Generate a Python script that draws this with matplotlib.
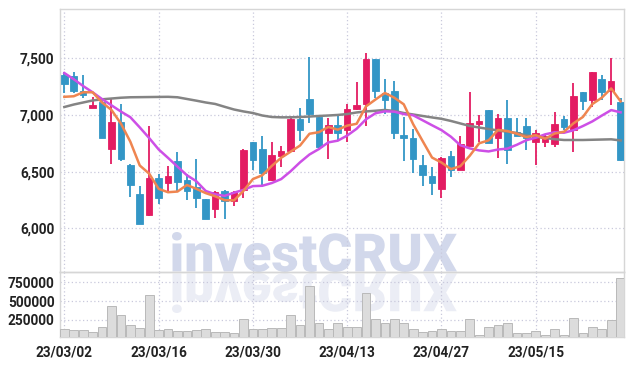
import numpy as np
import pandas as pd
import matplotlib
matplotlib.use("Agg")
import matplotlib.pyplot as plt
from matplotlib.textpath import TextPath
from matplotlib.patches import PathPatch
from matplotlib.font_manager import FontProperties
from matplotlib.transforms import Affine2D

# daily prices (KRW)
opens = [7350, 7340, 7210, 7060, 7110, 6700, 6940, 6560, 6300, 6120,
         6440, 6400, 6590, 6430, 6360, 6260, 6170, 6330, 6240, 6340,
         6760, 6700, 6430, 6640, 6680, 6960, 7140, 6980, 6840, 6910,
         6870, 7050, 7100, 7490, 7190, 7210, 6810, 6800, 6560, 6460,
         6350, 6640, 6510, 6730, 6920, 7040, 6800, 6970, 6850, 6900,
         6760, 6760, 6740, 6960, 6870, 7200, 7130, 7320, 7210, 7110]
highs = [7380, 7380, 7350, 7160, 7130, 7140, 7100, 6570, 6370, 6900,
         6480, 6550, 6670, 6480, 6610, 6260, 6330, 6340, 6330, 6700,
         6760, 6810, 6760, 6730, 6990, 7060, 7510, 6980, 6970, 7000,
         7100, 7290, 7550, 7490, 7320, 7300, 6980, 6880, 6650, 6540,
         6630, 6680, 6810, 7200, 7000, 7040, 7010, 7130, 6970, 6970,
         6870, 6820, 7030, 6990, 7280, 7200, 7380, 7350, 7500, 7150]
lows = [7190, 7190, 7150, 7060, 6800, 6570, 6590, 6280, 6040, 6110,
        6210, 6320, 6330, 6250, 6180, 6080, 6090, 6080, 6200, 6270,
        6510, 6380, 6420, 6540, 6670, 6770, 6930, 6690, 6610, 6770,
        6760, 7040, 6900, 7150, 7010, 6790, 6590, 6490, 6370, 6290,
        6270, 6450, 6510, 6730, 6760, 6750, 6620, 6570, 6810, 6690,
        6560, 6720, 6720, 6870, 6670, 7040, 7070, 7130, 7090, 6590]
closes = [7270, 7210, 7180, 7090, 6800, 6940, 6610, 6380, 6040, 6440,
          6270, 6460, 6410, 6330, 6270, 6080, 6320, 6240, 6320, 6690,
          6600, 6490, 6650, 6680, 6960, 6870, 7010, 6720, 6910, 6840,
          7050, 7090, 7490, 7210, 7130, 6840, 6800, 6610, 6470, 6400,
          6620, 6510, 6740, 6930, 6950, 6750, 6970, 6690, 6810, 6800,
          6840, 6810, 6920, 6890, 7170, 7120, 7380, 7200, 7300, 6600]
ma5 = [7160, 7165, 7200, 7200, 7110, 7044, 6924, 6764, 6554, 6482,
       6348, 6318, 6324, 6382, 6348, 6310, 6282, 6248, 6246, 6330,
       6434, 6468, 6550, 6622, 6676, 6730, 6834, 6848, 6894, 6870,
       6906, 6922, 7076, 7136, 7194, 7152, 7094, 6918, 6770, 6624,
       6580, 6522, 6548, 6640, 6750, 6776, 6868, 6858, 6834, 6804,
       6822, 6790, 6836, 6852, 6926, 6982, 7096, 7152, 7234, 7120]
ma10 = [7370, 7315, 7255, 7200, 7140, 7085, 7030, 6980, 6890, 6796,
        6696, 6621, 6544, 6468, 6415, 6329, 6300, 6286, 6314, 6339,
        6372, 6375, 6399, 6434, 6503, 6582, 6651, 6699, 6758, 6773,
        6818, 6878, 6962, 7015, 7032, 7029, 7008, 6997, 6953, 6909,
        6866, 6808, 6733, 6705, 6687, 6678, 6695, 6703, 6737, 6777,
        6799, 6829, 6847, 6843, 6865, 6902, 6943, 6994, 7043, 7023]
ma_long = [7070, 7092, 7110, 7128, 7138, 7145, 7152, 7156, 7157, 7158,
           7159, 7160, 7156, 7141, 7126, 7110, 7097, 7072, 7048, 7031,
           7017, 6995, 6982, 6979, 6979, 6982, 6986, 6991, 6995, 7000,
           7008, 7022, 7031, 7037, 7044, 7035, 7017, 7004, 6991, 6978,
           6966, 6947, 6925, 6903, 6889, 6876, 6863, 6852, 6841, 6819,
           6807, 6797, 6786, 6779, 6779, 6779, 6781, 6783, 6785, 6775]
volume = [125000, 112000, 112000, 85000, 160000, 440000, 310000, 178000, 138000, 575000,
          112000, 133000, 98000, 98000, 112000, 125000, 90000, 90000, 72000, 258000,
          133000, 133000, 147000, 138000, 310000, 178000, 705000, 204000, 133000, 212000,
          160000, 160000, 610000, 258000, 212000, 258000, 204000, 133000, 90000, 98000,
          125000, 98000, 98000, 266000, 55000, 160000, 178000, 212000, 81000, 72000,
          107000, 55000, 125000, 55000, 279000, 81000, 160000, 133000, 244000, 810000]

# trading days (KRX holidays in range removed)
dates = pd.bdate_range("2023-03-02", periods=len(closes), freq="C",
                       holidays=["2023-05-01", "2023-05-05"])
date_labels = dates.strftime("%y/%m/%d")

RED = "#e31c62"
BLUE = "#3396c6"
GRID = "#c9c9dc"
FRAME = "#d6d6d6"
TXT = "#222222"
tick_font = dict(family=["Roboto", "DejaVu Sans"], size=9.8, weight="bold")

W, H = 634, 366
fig = plt.figure(figsize=(W / 100, H / 100), dpi=100)
fig.patch.set_facecolor("white")

ax = fig.add_axes([60 / W, 1 - 272 / H, 564 / W, 263 / H])
axv = fig.add_axes([60 / W, 1 - 337 / H, 564 / W, 65 / H])
for a in (ax, axv):
    a.set_facecolor("none")
    for s in a.spines.values():
        s.set_color(FRAME)
        s.set_linewidth(1)
    a.tick_params(length=0, colors=TXT)
    a.set_axisbelow(True)

x = np.arange(len(closes))
o = np.array(opens)
c = np.array(closes)
up = c >= o
col = np.where(up, RED, BLUE)

# candles
ax.vlines(x, lows, highs, colors=col, linewidth=1.3, zorder=3)
body_lo = np.minimum(o, c)
body_h = np.maximum(np.abs(c - o), 20)
ax.bar(x, body_h, bottom=body_lo, width=0.7, color=col, edgecolor=col, linewidth=0.6, zorder=4)

ax.plot(x, ma_long, color="#848484", lw=1.8, zorder=5)
ax.plot(x, ma10, color="#cd4fe6", lw=1.8, zorder=5)
ax.plot(x, ma5, color="#ef8550", lw=1.8, zorder=6)

ax.set_xlim(-0.46, 59.36)
ax.set_ylim(5614, 7935)
ax.set_yticks([6000, 6500, 7000, 7500])
ax.set_yticklabels(["{:,}".format(v) for v in [6000, 6500, 7000, 7500]], **tick_font)
tick_idx = list(range(0, len(closes), 10))
ax.set_xticks(tick_idx)
ax.set_xticklabels([])
ax.grid(True, color=GRID, linestyle=(0, (1, 2)), linewidth=0.9)
ax.tick_params(axis="y", pad=4)

# volume
axv.bar(x, volume, width=0.92, color="#dcdcdc", edgecolor="#b9b9b9", linewidth=0.7, zorder=3)
axv.set_xlim(-0.46, 59.36)
axv.set_ylim(24000, 887000)
axv.set_yticks([250000, 500000, 750000])
axv.set_yticklabels(["250000", "500000", "750000"], **tick_font)
axv.set_xticks(tick_idx)
axv.set_xticklabels([date_labels[i] for i in tick_idx], **tick_font)
axv.grid(True, color=GRID, linestyle=(0, (1, 2)), linewidth=0.9)
axv.tick_params(axis="y", pad=4)
axv.tick_params(axis="x", pad=6)

# watermark with reflection
tp = TextPath((0, 0), "investCRUX", size=1,
              prop=FontProperties(family=["Roboto", "DejaVu Sans"], weight="black"))
bb = tp.get_extents()
x0, x1, ytop, ybase = 172, 457, 232, 272
sx = (x1 - x0) / bb.width
sy = (ybase - ytop) / bb.height
tr = Affine2D().translate(-bb.x0, -bb.y0).scale(sx / W, sy / H).translate(x0 / W, 1 - ybase / H)
fig.add_artist(PathPatch(tr.transform_path(tp), facecolor="#d2d8eb", edgecolor="none",
                         transform=fig.transFigure, zorder=-1))
tr2 = Affine2D().translate(-bb.x0, -bb.y0).scale(sx / W, -sy / H).translate(x0 / W, 1 - (ybase + 1) / H)
fig.add_artist(PathPatch(tr2.transform_path(tp), facecolor="#ebedf5", edgecolor="none",
                         transform=fig.transFigure, zorder=-1))

fig.savefig("out.png", dpi=100, facecolor="white")
